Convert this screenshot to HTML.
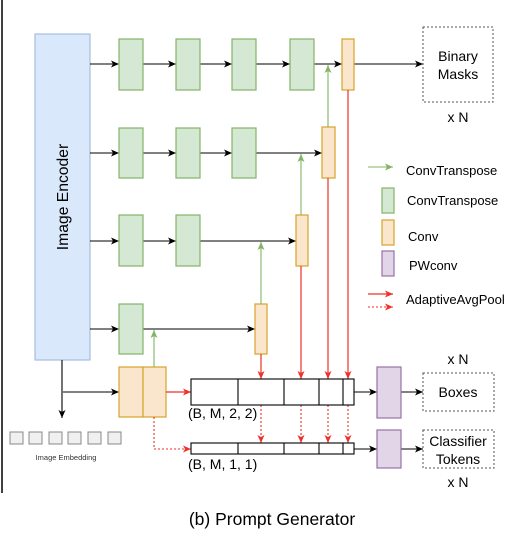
<!DOCTYPE html>
<html><head><meta charset="utf-8"><style>
body{margin:0;background:#fff}
svg{display:block;font-family:"Liberation Sans",Arial,sans-serif}
</style></head><body>
<svg width="520" height="538" viewBox="0 0 520 538" xmlns="http://www.w3.org/2000/svg">
<defs>
<marker id="ab" markerWidth="9" markerHeight="9" refX="8" refY="4.5" orient="auto" markerUnits="userSpaceOnUse"><path d="M0,1 L8,4.5 L0,8 L2,4.5z" fill="#000"/></marker>
<marker id="ag" markerWidth="9" markerHeight="9" refX="8" refY="4.5" orient="auto" markerUnits="userSpaceOnUse"><path d="M0,1 L8,4.5 L0,8 L2,4.5z" fill="#82b366"/></marker>
<marker id="ar" markerWidth="9" markerHeight="9" refX="8" refY="4.5" orient="auto" markerUnits="userSpaceOnUse"><path d="M0,1 L8,4.5 L0,8 L2,4.5z" fill="#f0302a"/></marker>
</defs>
<line x1="2" y1="0" x2="2" y2="493" stroke="#000" stroke-width="1.5"/>
<rect x="35" y="34" width="55" height="326" fill="#dae8fc" stroke="#a6bde0" stroke-width="1.2"/>
<text transform="translate(68,197) rotate(-90)" text-anchor="middle" font-size="15.7">Image Encoder</text>
<g stroke="#000" stroke-width="1.1" fill="none">
<line x1="90" y1="64" x2="119" y2="64" marker-end="url(#ab)"/>
<line x1="143" y1="64" x2="176" y2="64" marker-end="url(#ab)"/>
<line x1="200" y1="64" x2="232" y2="64" marker-end="url(#ab)"/>
<line x1="256" y1="64" x2="290" y2="64" marker-end="url(#ab)"/>
<line x1="314" y1="64" x2="342" y2="64" marker-end="url(#ab)"/>
<line x1="354" y1="64" x2="423" y2="64" marker-end="url(#ab)"/>
<line x1="90" y1="153" x2="119" y2="153" marker-end="url(#ab)"/>
<line x1="143" y1="153" x2="176" y2="153" marker-end="url(#ab)"/>
<line x1="200" y1="153" x2="232" y2="153" marker-end="url(#ab)"/>
<line x1="256" y1="153" x2="322" y2="153" marker-end="url(#ab)"/>
<line x1="90" y1="241" x2="119" y2="241" marker-end="url(#ab)"/>
<line x1="143" y1="241" x2="176" y2="241" marker-end="url(#ab)"/>
<line x1="200" y1="241" x2="296" y2="241" marker-end="url(#ab)"/>
<line x1="90" y1="329" x2="119" y2="329" marker-end="url(#ab)"/>
<line x1="143" y1="329" x2="255" y2="329" marker-end="url(#ab)"/>
<line x1="62" y1="360" x2="62" y2="418" marker-end="url(#ab)"/>
<line x1="63" y1="392" x2="119" y2="392" marker-end="url(#ab)"/>
<line x1="354" y1="392" x2="377" y2="392" marker-end="url(#ab)"/>
<line x1="401" y1="392" x2="423" y2="392" marker-end="url(#ab)"/>
<line x1="354" y1="449" x2="377" y2="449" marker-end="url(#ab)"/>
<line x1="401" y1="449" x2="423" y2="449" marker-end="url(#ab)"/>
</g>
<g fill="#d5e8d4" stroke="#82b366" stroke-width="1.2">
<rect x="119" y="39" width="24" height="51"/><rect x="176" y="39" width="24" height="51"/><rect x="232" y="39" width="24" height="51"/><rect x="290" y="39" width="24" height="51"/>
<rect x="119" y="128" width="24" height="50"/><rect x="176" y="128" width="24" height="50"/><rect x="232" y="128" width="24" height="50"/>
<rect x="119" y="215" width="24" height="51"/><rect x="176" y="215" width="24" height="51"/>
<rect x="119" y="304" width="24" height="50"/>
<rect x="382" y="188" width="12" height="25"/>
</g>
<g fill="#fae5cd" stroke="#d6a32a" stroke-width="1.2">
<rect x="342" y="39" width="12" height="51"/>
<rect x="322" y="127" width="13" height="51"/>
<rect x="296" y="215" width="12" height="51"/>
<rect x="255" y="304" width="12" height="50"/>
<rect x="119" y="367" width="24" height="50"/><rect x="143" y="367" width="23" height="50"/>
<rect x="382" y="220" width="12" height="25"/>
</g>
<g fill="#e1d5e7" stroke="#9673a6" stroke-width="1.2">
<rect x="377" y="367" width="24" height="51"/><rect x="377" y="430" width="24" height="38"/>
<rect x="382" y="251" width="12" height="25"/>
</g>
<g stroke="#82b366" stroke-width="1.1">
<line x1="328" y1="127" x2="328" y2="65" marker-end="url(#ag)"/>
<line x1="301" y1="215" x2="301" y2="154" marker-end="url(#ag)"/>
<line x1="261" y1="304" x2="261" y2="242" marker-end="url(#ag)"/>
<line x1="154" y1="367" x2="154" y2="330" marker-end="url(#ag)"/>
<line x1="368" y1="167" x2="393" y2="167" marker-end="url(#ag)"/>
</g>
<g stroke="#f0302a" stroke-width="1.2">
<line x1="261" y1="354" x2="261" y2="379" marker-end="url(#ar)"/>
<line x1="301" y1="266" x2="301" y2="379" marker-end="url(#ar)"/>
<line x1="328" y1="178" x2="328" y2="379" marker-end="url(#ar)"/>
<line x1="348" y1="90" x2="348" y2="379" marker-end="url(#ar)"/>
<line x1="166" y1="392" x2="191" y2="392" marker-end="url(#ar)"/>
<line x1="368" y1="294" x2="393" y2="294" marker-end="url(#ar)"/>
</g>
<g stroke="#f0302a" stroke-width="1.1" stroke-dasharray="2,2" fill="none">
<line x1="261" y1="405" x2="261" y2="443" marker-end="url(#ar)"/>
<line x1="301" y1="405" x2="301" y2="443" marker-end="url(#ar)"/>
<line x1="328" y1="405" x2="328" y2="443" marker-end="url(#ar)"/>
<line x1="348" y1="405" x2="348" y2="443" marker-end="url(#ar)"/>
<polyline points="154,417 154,449 191,449" marker-end="url(#ar)"/>
<line x1="368" y1="307" x2="393" y2="307" marker-end="url(#ar)"/>
</g>
<g fill="#fff" stroke="#000" stroke-width="1.1">
<rect x="191" y="379" width="163" height="26"/>
<line x1="238" y1="379" x2="238" y2="405"/><line x1="284" y1="379" x2="284" y2="405"/><line x1="319" y1="379" x2="319" y2="405"/><line x1="343" y1="379" x2="343" y2="405"/>
<rect x="191" y="443" width="163" height="11"/>
<line x1="238" y1="443" x2="238" y2="454"/><line x1="284" y1="443" x2="284" y2="454"/><line x1="319" y1="443" x2="319" y2="454"/><line x1="343" y1="443" x2="343" y2="454"/>
</g>
<g fill="none" stroke="#555" stroke-width="1" stroke-dasharray="2,2">
<rect x="423" y="27" width="70" height="75"/>
<rect x="423" y="373" width="71" height="38"/>
<rect x="423" y="430" width="71" height="38"/>
</g>
<g fill="#f0f0f0" stroke="#888" stroke-width="1">
<rect x="10" y="432" width="13" height="12"/><rect x="29" y="432" width="13" height="12"/><rect x="49" y="432" width="13" height="12"/><rect x="68" y="432" width="13" height="12"/><rect x="88" y="432" width="13" height="12"/><rect x="108" y="432" width="13" height="12"/>
</g>
<g font-size="14" fill="#000">
<text x="458" y="61" text-anchor="middle">Binary</text>
<text x="458" y="79" text-anchor="middle">Masks</text>
<text x="458" y="122" text-anchor="middle">x N</text>
<text x="458" y="364" text-anchor="middle">x N</text>
<text x="458" y="397" text-anchor="middle">Boxes</text>
<text x="458" y="446" text-anchor="middle">Classifier</text>
<text x="458" y="464" text-anchor="middle">Tokens</text>
<text x="458" y="487" text-anchor="middle">x N</text>
<text x="188" y="418">(B, M, 2, 2)</text>
<text x="188" y="469">(B, M, 1, 1)</text>
</g>
<g font-size="13" fill="#000">
<text x="406" y="175">ConvTranspose</text>
<text x="407" y="205">ConvTranspose</text>
<text x="408" y="241">Conv</text>
<text x="409" y="270">PWconv</text>
<text x="406" y="304">AdaptiveAvgPool</text>
</g>
<text x="66" y="460" text-anchor="middle" font-size="7.5" fill="#333">Image Embedding</text>
<text x="272" y="525" text-anchor="middle" font-size="17.5">(b) Prompt Generator</text>
</svg>
</body></html>
